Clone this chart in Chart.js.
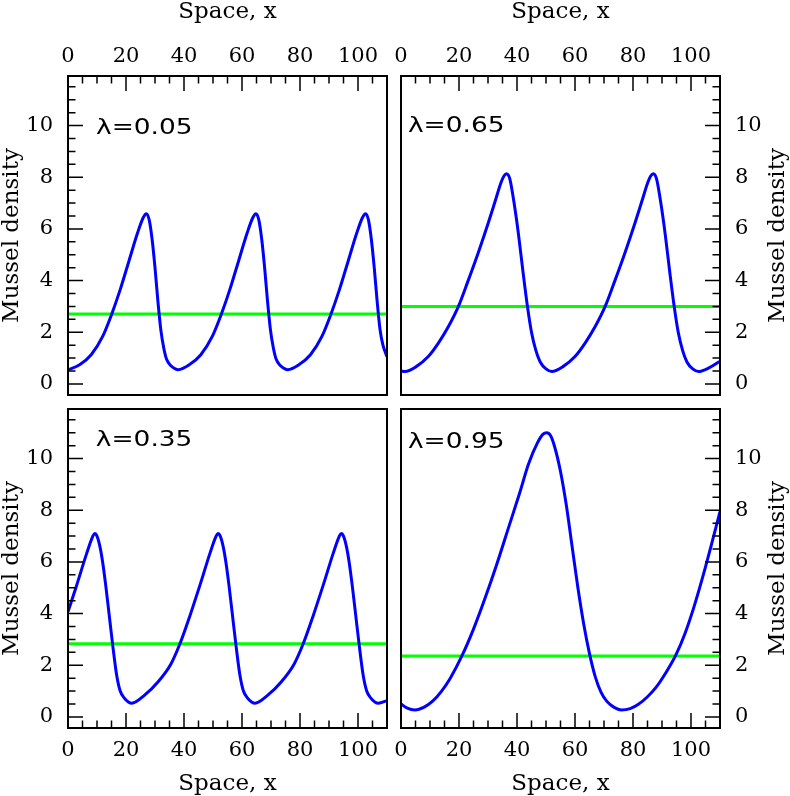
<!DOCTYPE html>
<html>
<head>
<meta charset="utf-8">
<script src="https://cdn.jsdelivr.net/npm/chart.js@4.4.1/dist/chart.umd.min.js"></script>
<style>
  html, body { margin: 0; padding: 0; background: #fff; }
  #wrap { position: relative; width: 790px; height: 796px; }
  #wrap canvas { position: absolute; left: 0; top: 0; }
</style>
</head>
<body>
<div id="wrap">
  <canvas id="p1" width="790" height="796"></canvas>
  <canvas id="p2" width="790" height="796"></canvas>
  <canvas id="p3" width="790" height="796"></canvas>
  <canvas id="p4" width="790" height="796"></canvas>
</div>
<script>
// ---- data ----
const xTickLabels = [0, 20, 40, 60, 80, 100];
const yTickLabels = [0, 2, 4, 6, 8, 10];
const lambdaLabels = ['λ=0.05', 'λ=0.65', 'λ=0.35', 'λ=0.95'];
const uniformLevels = [2.71, 3.0, 2.83, 2.36];   // green line (homogeneous state)

// lambda = 0.05
const x005 = [0, 4, 8, 12, 15, 18, 21, 24, 26, 27, 28, 29, 30, 31, 32, 33, 34, 35.5, 37, 38,
  41.8, 45.8, 49.8, 52.8, 55.8, 58.8, 61.8, 63.8, 64.8, 65.8, 66.8, 67.8, 68.8, 69.8, 70.8, 71.8, 73.3, 74.8, 75.8,
  79.6, 83.6, 87.6, 90.6, 93.6, 96.6, 99.6, 101.6, 102.6, 103.6, 104.6, 105.6, 106.6, 107.6, 108.6, 110];
const y005 = [0.54, 0.74, 1.13, 1.85, 2.68, 3.65, 4.75, 5.85, 6.45, 6.59, 6.35, 5.6, 4.5, 3.2, 2.1, 1.4, 0.95, 0.7, 0.58, 0.55,
  0.74, 1.13, 1.85, 2.68, 3.65, 4.75, 5.85, 6.45, 6.59, 6.35, 5.6, 4.5, 3.2, 2.1, 1.4, 0.95, 0.7, 0.58, 0.55,
  0.74, 1.13, 1.85, 2.68, 3.65, 4.75, 5.85, 6.45, 6.59, 6.35, 5.6, 4.5, 3.2, 2.1, 1.5, 1.05];

// lambda = 0.65
const x065 = [0, 1.4, 5, 9.4, 13, 16.5, 19.8, 23, 26.7, 30, 32.4, 34.5, 35.5, 36.4, 37.5, 39, 40.5, 42, 43.6, 45, 46.5, 48, 50, 52,
  55.6, 60, 63.6, 67.1, 70.4, 73.6, 77.3, 80.6, 83, 85.1, 86.1, 87, 88.1, 89.6, 91.1, 92.6, 94.2, 95.6, 97.1, 98.6, 100.6, 102.6, 106.2, 110];
const y065 = [0.5, 0.48, 0.65, 1.06, 1.6, 2.25, 3.0, 3.95, 5.1, 6.2, 7.05, 7.8, 8.05, 8.14, 7.95, 7.0, 5.8, 4.4, 3.0, 2.0, 1.3, 0.85, 0.58, 0.48,
  0.65, 1.06, 1.6, 2.25, 3.0, 3.95, 5.1, 6.2, 7.05, 7.8, 8.05, 8.14, 7.95, 7.0, 5.8, 4.4, 3.0, 2.0, 1.3, 0.85, 0.58, 0.48, 0.62, 0.88];

// lambda = 0.35
const x035 = [0, 3, 6.5, 8.5, 9.2, 10, 11, 12, 13, 14.2, 15.5, 16.8, 18, 19.5, 20.8, 22,
  26.5, 31, 35.5, 38.6, 42, 45.5, 49, 51, 51.7, 52.5, 53.5, 54.5, 55.5, 56.7, 58, 59.3, 60.5, 62, 63.3, 64.5,
  69, 73.5, 78, 81.1, 84.5, 88, 91.5, 93.5, 94.2, 95, 96, 97, 98, 99.2, 100.5, 101.8, 103, 104.5, 105.8, 107, 110];
const y035 = [4.07, 5.1, 6.35, 6.98, 7.1, 7.0, 6.6, 5.95, 5.1, 3.95, 2.7, 1.6, 1.0, 0.72, 0.58, 0.53,
  0.85, 1.35, 2.05, 2.83, 3.9, 5.1, 6.35, 6.98, 7.1, 7.0, 6.6, 5.95, 5.1, 3.95, 2.7, 1.6, 1.0, 0.72, 0.58, 0.53,
  0.85, 1.35, 2.05, 2.83, 3.9, 5.1, 6.35, 6.98, 7.1, 7.0, 6.6, 5.95, 5.1, 3.95, 2.7, 1.6, 1.0, 0.72, 0.58, 0.53, 0.63];

// lambda = 0.95
const x095 = [0, 2, 4.8, 8, 11, 14, 17, 21, 25, 29, 33, 37, 41, 44, 47, 49, 50.2, 51.5, 53, 55,
  57, 59, 61, 63, 65, 67, 69, 71, 73.5, 76, 79, 82, 85, 88, 91, 94.8, 98, 101, 104, 107, 110];
const y095 = [0.5, 0.35, 0.27, 0.38, 0.62, 1.0, 1.5, 2.36, 3.4, 4.6, 5.9, 7.3, 8.7, 9.8, 10.6, 10.95, 11.0, 10.9, 10.45, 9.5,
  8.2, 6.6, 5.0, 3.6, 2.45, 1.55, 0.95, 0.6, 0.37, 0.27, 0.32, 0.5, 0.78, 1.15, 1.65, 2.4, 3.25, 4.25, 5.4, 6.65, 7.95];

// ---- layout ----
const W = 790, H = 796;
const X_MIN = 0, X_MAX = 110, Y_MIN = -0.43, Y_MAX = 11.92;
const serif = 'DejaVu Serif';

const panels = [
  { id: 'p1', xs: x005, ys: y005, level: uniformLevels[0], label: lambdaLabels[0], xPos: 'top', yPos: 'left',
    box: { l: 68, t: 76, r: 387, b: 395 }, labelAt: [9.66, 9.91] },
  { id: 'p2', xs: x065, ys: y065, level: uniformLevels[1], label: lambdaLabels[1], xPos: 'top', yPos: 'right',
    box: { l: 401, t: 76, r: 720, b: 395 }, labelAt: [2.4, 9.99] },
  { id: 'p3', xs: x035, ys: y035, level: uniformLevels[2], label: lambdaLabels[2], xPos: 'bottom', yPos: 'left',
    box: { l: 68, t: 409, r: 387, b: 728 }, labelAt: [9.6, 10.69] },
  { id: 'p4', xs: x095, ys: y095, level: uniformLevels[3], label: lambdaLabels[3], xPos: 'bottom', yPos: 'right',
    box: { l: 401, t: 409, r: 720, b: 728 }, labelAt: [2.4, 10.65] }
];

// frame, inward ticks, lambda text and right-hand axis title
const framePlugin = {
  id: 'frame',
  afterDatasetsDraw(chart, args, o) {
    const { ctx, chartArea: a, scales: { x, y } } = chart;
    ctx.save();
    ctx.strokeStyle = '#000';
    ctx.lineWidth = 1.5;
    ctx.beginPath();
    for (let v = 5; v < X_MAX; v += 5) {
      const px = x.getPixelForValue(v);
      const len = v % 20 === 0 ? 15 : 7.5;
      if (o.xPos === 'top') { ctx.moveTo(px, a.top); ctx.lineTo(px, a.top + len); }
      else { ctx.moveTo(px, a.bottom); ctx.lineTo(px, a.bottom - len); }
    }
    for (let i = 0; i * 0.5 < Y_MAX; i++) {
      const py = y.getPixelForValue(i * 0.5);
      const len = i % 4 === 0 ? 15 : 7.5;
      if (o.yPos === 'left') { ctx.moveTo(a.left, py); ctx.lineTo(a.left + len, py); }
      else { ctx.moveTo(a.right, py); ctx.lineTo(a.right - len, py); }
    }
    ctx.stroke();
    ctx.lineWidth = 2;
    ctx.strokeRect(a.left, a.top, a.right - a.left, a.bottom - a.top);

    // lambda label
    ctx.fillStyle = '#000';
    ctx.font = '22px "DejaVu Sans"';
    ctx.textBaseline = 'middle';
    ctx.textAlign = 'left';
    ctx.save();
    ctx.translate(x.getPixelForValue(o.labelAt[0]), y.getPixelForValue(o.labelAt[1]));
    ctx.scale(1.2, 1);
    ctx.fillText(o.label, 0, 0);
    ctx.restore();

    // y title on the right side reads bottom-to-top like the left one
    if (o.yPos === 'right') {
      ctx.font = '23px "' + serif + '"';
      ctx.textAlign = 'center';
      ctx.translate(chart.width - 12, (a.top + a.bottom) / 2);
      ctx.rotate(-Math.PI / 2);
      ctx.fillText('Mussel density', 0, 0);
    }
    ctx.restore();
  }
};

panels.forEach(p => {
  const ctx = document.getElementById(p.id).getContext('2d');
  new Chart(ctx, {
    type: 'line',
    data: {
      datasets: [
        {
          data: p.xs.map((v, i) => ({ x: v, y: p.ys[i] })),
          borderColor: '#0000ff',
          borderWidth: 3,
          pointRadius: 0,
          cubicInterpolationMode: 'monotone',
          fill: false
        },
        {
          data: [{ x: X_MIN, y: p.level }, { x: X_MAX, y: p.level }],
          borderColor: '#00ff00',
          borderWidth: 3,
          pointRadius: 0,
          fill: false
        }
      ]
    },
    options: {
      responsive: false,
      animation: false,
      events: [],
      devicePixelRatio: 1,
      layout: {
        padding: {
          left: p.yPos === 'left' ? 0 : p.box.l,
          right: p.yPos === 'right' ? 0 : W - p.box.r,
          top: p.xPos === 'top' ? 0 : p.box.t,
          bottom: p.xPos === 'bottom' ? 0 : H - p.box.b
        }
      },
      scales: {
        x: {
          type: 'linear',
          position: p.xPos,
          min: X_MIN, max: X_MAX,
          grid: { display: false, drawTicks: false },
          border: { display: false },
          afterBuildTicks: s => { s.ticks = xTickLabels.map(v => ({ value: v })); },
          afterFit: s => { s.height = p.xPos === 'top' ? p.box.t : H - p.box.b; },
          ticks: {
            color: '#000', autoSkip: false, maxRotation: 0,
            padding: p.xPos === 'top' ? 7 : 10,
            font: { family: serif, size: 21 }
          },
          title: {
            display: true, text: 'Space, x', color: '#000',
            font: { family: serif, size: 23 },
            padding: { top: -2, bottom: -2 }
          }
        },
        y: {
          type: 'linear',
          position: p.yPos,
          min: Y_MIN, max: Y_MAX,
          grid: { display: false, drawTicks: false },
          border: { display: false },
          afterBuildTicks: s => { s.ticks = yTickLabels.map(v => ({ value: v })); },
          afterFit: s => { s.width = p.yPos === 'left' ? p.box.l : W - p.box.r; },
          ticks: {
            color: '#000', padding: 15,
            font: { family: serif, size: 21 }
          },
          title: {
            display: p.yPos === 'left', text: 'Mussel density', color: '#000',
            font: { family: serif, size: 23 },
            padding: { top: -2, bottom: -2 }
          }
        }
      },
      plugins: {
        legend: { display: false },
        tooltip: { enabled: false },
        frame: { xPos: p.xPos, yPos: p.yPos, label: p.label, labelAt: p.labelAt }
      }
    },
    plugins: [framePlugin]
  });
});
</script>
</body>
</html>
